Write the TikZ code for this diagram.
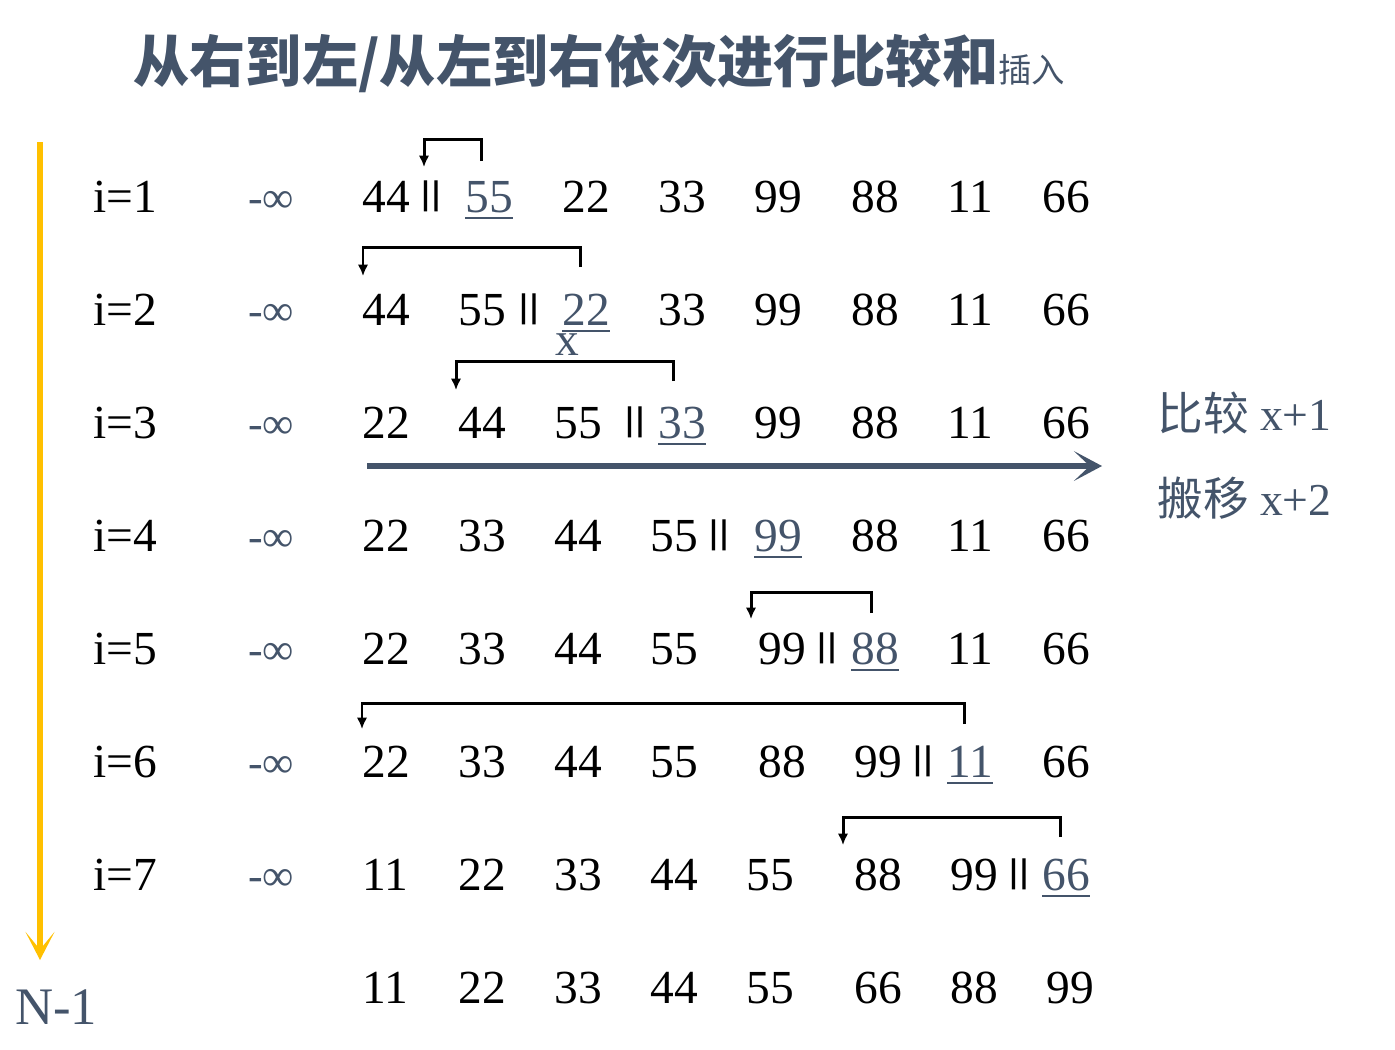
\documentclass[tikz,border=0pt]{standalone}
\usepackage{fontspec}
\setmainfont{Liberation Serif}
\newfontfamily\cjk{Noto Sans CJK SC}
\usetikzlibrary{arrows.meta}
\definecolor{ardoise}{HTML}{44546A}
\definecolor{jaune}{HTML}{FFC000}
\newcommand\chiffres{\fontsize{27}{30}\selectfont}
\newcommand\und[1]{\textcolor{ardoise}{\setbox0\hbox{#1}\rlap{\rule[-4pt]{\wd0}{1.1pt}}\box0}}
\newcommand\barres{\raisebox{0.155em}{\scalebox{1}[0.72]{\textbf{||}}}}

\begin{document}
\begin{tikzpicture}[x=0.02cm,y=-0.02cm]
      \tikzstyle{nombre}=[anchor=base west, inner sep=0pt, font=\chiffres]
      \tikzstyle{infini}=[nombre, text=ardoise, font=\fontsize{25}{28}\selectfont]
      \tikzstyle{crochet}=[line width=1.7pt, -{Latex[length=6.5pt,width=6pt]}]
      \tikzstyle{axe}=[ardoise, line width=3.4pt, -{Stealth[length=16pt,width=17pt,inset=9pt]}]
      \tikzstyle{sens}=[jaune, line width=3.4pt, -{Stealth[length=16pt,width=16.5pt,inset=10pt]}]
      \useasboundingbox (0,0) rectangle (1395,1049);

      \node[anchor=base west, inner sep=0pt, text=ardoise, font=\cjk\bfseries\fontsize{32}{38}\selectfont] (titre) at (133,82) {从右到左/从左到右依次进行比较和{\mdseries\fontsize{19}{22}\selectfont 插入}};

      % etiquettes des passes
      \foreach \i/\y in {1/212,2/325,3/438,4/551,5/664,6/777,7/890} {
        \node[nombre] (i\i) at (93,\y) {i=\i};
        \node[infini] (inf\i) at (248,\y) {-∞};
      }

      % tableaux
      \foreach \x/\t [count=\k] in {362/44,420/\barres,465/\und{55},562/22,658/33,754/99,851/88,947/11,1042/66}
        \node[nombre] (r1c\k) at (\x,212) {\t};
      \foreach \x/\t [count=\k] in {362/44,458/55,518/\barres,562/\und{22},658/33,754/99,851/88,947/11,1042/66}
        \node[nombre] (r2c\k) at (\x,325) {\t};
      \foreach \x/\t [count=\k] in {362/22,458/44,554/55,624/\barres,658/\und{33},754/99,851/88,947/11,1042/66}
        \node[nombre] (r3c\k) at (\x,438) {\t};
      \foreach \x/\t [count=\k] in {362/22,458/33,554/44,650/55,708/\barres,754/\und{99},851/88,947/11,1042/66}
        \node[nombre] (r4c\k) at (\x,551) {\t};
      \foreach \x/\t [count=\k] in {362/22,458/33,554/44,650/55,758/99,816/\barres,851/\und{88},947/11,1042/66}
        \node[nombre] (r5c\k) at (\x,664) {\t};
      \foreach \x/\t [count=\k] in {362/22,458/33,554/44,650/55,758/88,854/99,912/\barres,947/\und{11},1042/66}
        \node[nombre] (r6c\k) at (\x,777) {\t};
      \foreach \x/\t [count=\k] in {362/11,458/22,554/33,650/44,746/55,854/88,950/99,1008/\barres,1042/\und{66}}
        \node[nombre] (r7c\k) at (\x,890) {\t};
      \foreach \x/\t [count=\k] in {362/11,458/22,554/33,650/44,746/55,854/66,950/88,1046/99}
        \node[nombre] (r8c\k) at (\x,1003) {\t};

      \node[nombre, text=ardoise] (x) at (555,355) {x};
      \node[nombre, text=ardoise, font=\fontsize{30}{34}\selectfont] (fin) at (15,1024) {N-1};
      \node[nombre, text=ardoise, font=\fontsize{26}{30}\selectfont] (cmp) at (1157,430) {{\cjk 比较} x+1};
      \node[nombre, text=ardoise, font=\fontsize{26}{30}\selectfont] (mov) at (1157,515) {{\cjk 搬移} x+2};

      % crochets d'insertion
      \coordinate (d1) at (481,161); \coordinate (a1) at (424,167);
      \coordinate (d2) at (580,267); \coordinate (a2) at (363,276);
      \coordinate (d3) at (673,381); \coordinate (a3) at (456,390);
      \coordinate (d5) at (871,613); \coordinate (a5) at (751,619);
      \coordinate (d6) at (964,724); \coordinate (a6) at (362,729);
      \coordinate (d7) at (1060,837); \coordinate (a7) at (843,845);
      \draw[crochet] (d1) -- ++(0,-22) -| (a1);
      \draw[crochet] (d2) -- ++(0,-20) -| (a2);
      \draw[crochet] (d3) -- ++(0,-20) -| (a3);
      \draw[crochet] (d5) -- ++(0,-21) -| (a5);
      \draw[crochet] (d6) -- ++(0,-21) -| (a6);
      \draw[crochet] (d7) -- ++(0,-20) -| (a7);

      \coordinate (g) at (367,466); \coordinate (dr) at (1102,466);
      \draw[axe] (g) -- (dr);
      \coordinate (haut) at (40,142); \coordinate (bas) at (40,960);
      \draw[sens] (haut) -- (bas);
\end{tikzpicture}
\end{document}
